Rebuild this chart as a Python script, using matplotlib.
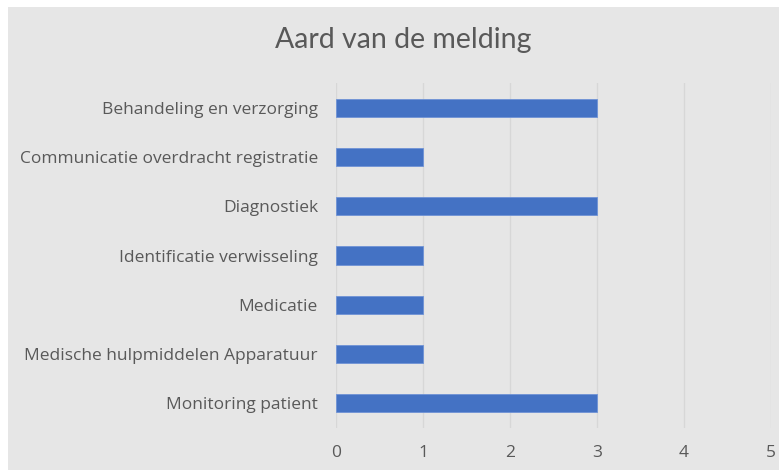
import matplotlib
matplotlib.use("Agg")
import matplotlib.pyplot as plt
from matplotlib.patches import Rectangle

categories = ['Behandeling en verzorging', 'Communicatie overdracht registratie',
              'Diagnostiek', 'Identificatie verwisseling', 'Medicatie',
              'Medische hulpmiddelen Apparatuur', 'Monitoring patient']
counts = [3, 1, 3, 1, 1, 1, 3]
xticks = [0, 1, 2, 3, 4, 5]

bg = '#e6e6e6'
txt = '#595959'
plt.rcParams['font.family'] = ['Open Sans', 'DejaVu Sans']

fig = plt.figure(figsize=(7.79, 4.70), dpi=100, facecolor='white')
fig.patches.append(Rectangle((8 / 779, 0), 1, 463 / 470, transform=fig.transFigure,
                             facecolor=bg, edgecolor='none', zorder=-5))
ax = fig.add_axes([336 / 779, 42 / 470, 435 / 779, 345 / 470])
ax.set_zorder(2)
ax.set_facecolor(bg)

ypos = list(range(len(categories)))
ax.barh(ypos, counts, height=0.37, color='#4472c4', edgecolor='#6f93d6', linewidth=0.6, zorder=3)
ax.set_ylim(len(categories) - 0.5, -0.5)
ax.set_xlim(0, 5)
ax.set_xticks(xticks)
ax.set_yticks(ypos)
ax.set_yticklabels(categories)
ax.grid(axis='x', color='#d7d7d7', linewidth=1, zorder=0)
ax.set_axisbelow(True)
for s in ax.spines.values():
    s.set_visible(False)
ax.tick_params(axis='both', length=0, colors=txt, labelsize=12.5)
ax.tick_params(axis='y', pad=13)
ax.tick_params(axis='x', pad=12)

fig.text(403 / 779, 1 - 40 / 470, 'Aard van de melding', ha='center', va='center',
         fontsize=20.5, color=txt, zorder=3, family=['Lato', 'DejaVu Sans'])

fig.savefig('out.png', dpi=100)
